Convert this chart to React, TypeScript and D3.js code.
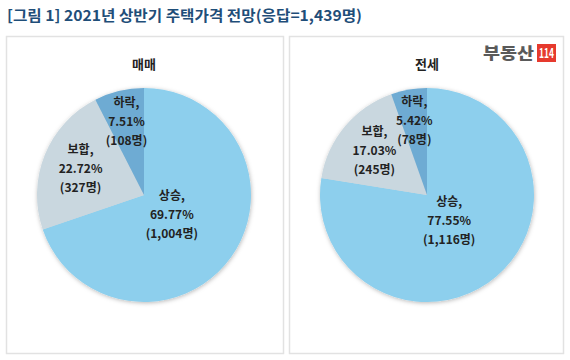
import * as d3 from 'd3';
import { useEffect, useRef } from "react";
import * as React from "react";

// 응답 구분
const categories = ['상승', '보합', '하락'];

// 매매 전망 (%, 명)
const salePct = [69.77, 22.72, 7.51];
const saleCount = [1004, 327, 108];

// 전세 전망 (%, 명)
const jeonsePct = [77.55, 17.03, 5.42];
const jeonseCount = [1116, 245, 78];

const panelTitles = ['매매', '전세'];
const chartTitle = '[그림 1] 2021년 상반기 주택가격 전망(응답=1,439명)';

const colors = ['#8dcfed', '#c9d7df', '#6eabd3'];
const labelRadius = [0.32, 0.64, 0.70];

const FONT = "'Noto Sans CJK KR', 'Noto Sans', sans-serif";

const App: React.FC = () => {
    const svgRef = useRef<SVGSVGElement | null>(null);

    useEffect(() => {
        const width = 570;
        const height = 360;
        const svg = d3.select(svgRef.current)
            .attr("width", width)
            .attr("height", height)
            .html("");

        const defs = svg.append("defs");
        const shadow = defs.append("filter")
            .attr("id", "pieShadow")
            .attr("x", "-20%").attr("y", "-20%")
            .attr("width", "140%").attr("height", "140%");
        shadow.append("feDropShadow")
            .attr("dx", 0.5).attr("dy", 1)
            .attr("stdDeviation", 2.2)
            .attr("flood-color", "#000")
            .attr("flood-opacity", 0.28);

        svg.append("rect")
            .attr("width", width).attr("height", height)
            .attr("fill", "#fff");

        svg.append("text")
            .attr("x", 7)
            .attr("y", 21)
            .attr("font-family", FONT)
            .attr("font-weight", "bold")
            .attr("font-size", 15)
            .attr("fill", "#1f4e79")
            .attr("textLength", 355)
            .attr("lengthAdjust", "spacingAndGlyphs")
            .text(chartTitle);

        const panels = [
            { x: 6, w: 277, cx: 144, pct: salePct, cnt: saleCount },
            { x: 289, w: 274, cx: 427, pct: jeonsePct, cnt: jeonseCount },
        ];
        const panelTop = 36;
        const panelH = 317;
        const cy = 195;
        const r = 107;

        const pie = d3.pie<number>().sort(null).value(d => d);
        const arc = d3.arc<d3.PieArcDatum<number>>().innerRadius(0).outerRadius(r);
        const fmt = d3.format(",");

        panels.forEach((p, pi) => {
            svg.append("rect")
                .attr("x", p.x + 0.5).attr("y", panelTop + 0.5)
                .attr("width", p.w).attr("height", panelH)
                .attr("fill", "#fff")
                .attr("stroke", "#e2e2e2")
                .attr("stroke-width", 1.5);

            svg.append("text")
                .attr("x", p.cx)
                .attr("y", 69)
                .attr("text-anchor", "middle")
                .attr("font-family", FONT)
                .attr("font-weight", "bold")
                .attr("font-size", 13)
                .attr("fill", "#222")
                .text(panelTitles[pi]);

            const g = svg.append("g")
                .attr("transform", `translate(${p.cx},${cy})`);

            const arcs = pie(p.pct);
            g.append("g")
                .attr("filter", "url(#pieShadow)")
                .selectAll("path")
                .data(arcs)
                .enter()
                .append("path")
                .attr("d", arc)
                .attr("fill", (_, i) => colors[i]);

            arcs.forEach((a, i) => {
                const mid = (a.startAngle + a.endAngle) / 2;
                const lr = r * labelRadius[i];
                const lx = Math.sin(mid) * lr;
                const ly = -Math.cos(mid) * lr;
                const lines = [
                    `${categories[i]},`,
                    `${p.pct[i].toFixed(2)}%`,
                    `(${fmt(p.cnt[i])}명)`,
                ];
                const t = g.append("text")
                    .attr("text-anchor", "middle")
                    .attr("font-family", FONT)
                    .attr("font-weight", "bold")
                    .attr("font-size", 12)
                    .attr("fill", "#222");
                lines.forEach((l, li) => {
                    t.append("tspan")
                        .attr("x", lx)
                        .attr("y", ly + (li - 1) * 19 + 4)
                        .text(l);
                });
            });
        });

        // 부동산114 로고
        svg.append("text")
            .attr("x", 483)
            .attr("y", 59)
            .attr("font-family", FONT)
            .attr("font-weight", 900)
            .attr("font-size", 16)
            .attr("fill", "#5a5a5a")
            .attr("textLength", 51)
            .attr("lengthAdjust", "spacingAndGlyphs")
            .text("부동산");
        svg.append("rect")
            .attr("x", 537).attr("y", 44)
            .attr("width", 19).attr("height", 18)
            .attr("fill", "#e63a2e");
        svg.append("text")
            .attr("x", 546.5)
            .attr("y", 58)
            .attr("text-anchor", "middle")
            .attr("font-family", FONT)
            .attr("font-weight", "bold")
            .attr("font-size", 13)
            .attr("fill", "#fff")
            .attr("textLength", 15)
            .attr("lengthAdjust", "spacingAndGlyphs")
            .text("114");
    }, []);

    return (
        <div style={{ position: "absolute", left: 0, top: 0 }}>
            <svg ref={svgRef}></svg>
        </div>
    );
};

export default App;
